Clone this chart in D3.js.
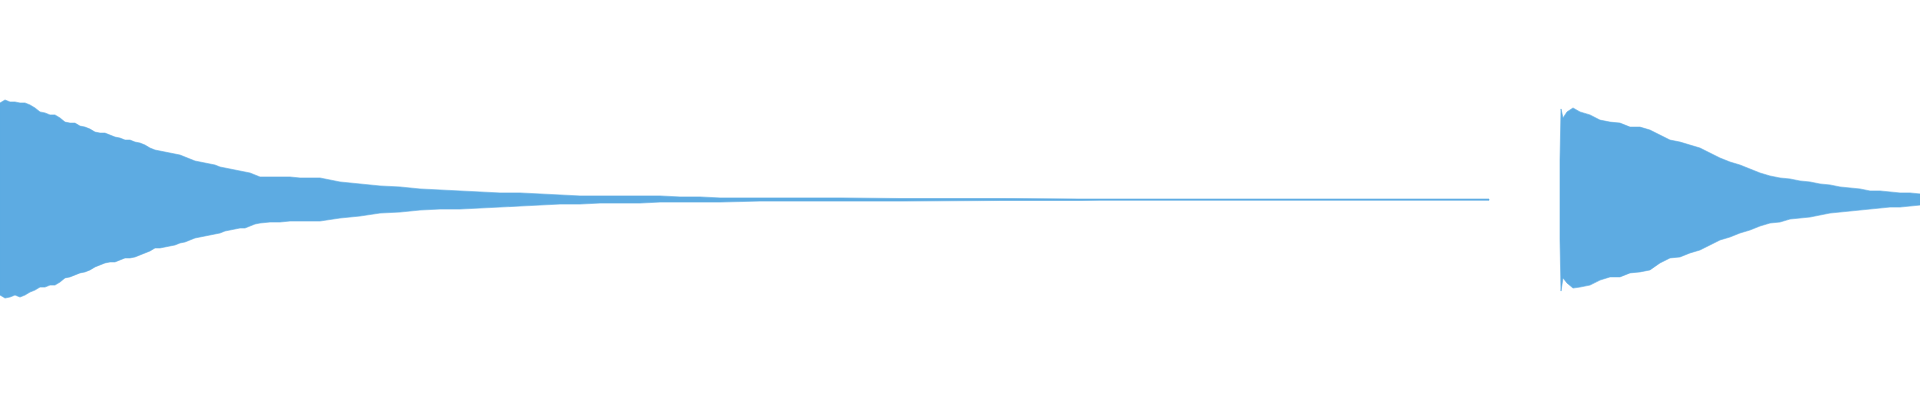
<!DOCTYPE html>
<html>
<head>
<meta charset="utf-8">
<script src="https://cdn.jsdelivr.net/npm/d3@7"></script>
<style>
  html, body { margin: 0; padding: 0; background: #ffffff; }
  svg { display: block; }
</style>
</head>
<body>
<div id="chart"></div>
<script>
// Time (ms) of each envelope sample, and peak max / min amplitudes (-1..1)
const clip1Time = [0,25,50,75,100,125,150,175,200,225,250,275,300,325,350,375,400,425,450,475,500,525,550,575,600,625,650,675,700,725,750,775,800,825,850,875,900,925,950,975,1000,1025,1050,1075,1100,1125,1150,1175,1200,1225,1250,1275,1300,1350,1400,1450,1500,1600,1700,1800,1900,2000,2100,2200,2300,2400,2500,2600,2700,2800,2900,3000,3100,3200,3300,3400,3500,3600,3800,4000,4200,4500,5000,5400,5500,6000,6500,7445];
const clip1Max = [0.484,0.499,0.489,0.489,0.484,0.484,0.474,0.459,0.439,0.434,0.424,0.424,0.409,0.388,0.383,0.383,0.368,0.363,0.353,0.338,0.333,0.333,0.323,0.313,0.308,0.298,0.298,0.288,0.283,0.273,0.258,0.248,0.243,0.238,0.233,0.228,0.223,0.213,0.203,0.193,0.188,0.183,0.178,0.173,0.163,0.158,0.153,0.148,0.143,0.138,0.133,0.123,0.113,0.113,0.113,0.113,0.108,0.108,0.088,0.078,0.068,0.063,0.053,0.048,0.043,0.038,0.033,0.033,0.028,0.023,0.018,0.018,0.018,0.018,0.018,0.013,0.013,0.008,0.008,0.008,0.008,0.005,0.005,0.0025,0.0025,0.0025,0.0025,0.0025];
const clip1Min = [-0.479,-0.494,-0.489,-0.479,-0.489,-0.479,-0.464,-0.454,-0.439,-0.439,-0.429,-0.429,-0.414,-0.393,-0.388,-0.378,-0.368,-0.363,-0.353,-0.338,-0.328,-0.318,-0.313,-0.313,-0.303,-0.293,-0.293,-0.288,-0.278,-0.268,-0.258,-0.243,-0.243,-0.238,-0.233,-0.228,-0.218,-0.213,-0.203,-0.193,-0.188,-0.183,-0.178,-0.173,-0.168,-0.158,-0.153,-0.148,-0.143,-0.143,-0.133,-0.123,-0.118,-0.113,-0.113,-0.108,-0.108,-0.108,-0.093,-0.083,-0.068,-0.063,-0.053,-0.048,-0.048,-0.043,-0.038,-0.033,-0.028,-0.023,-0.023,-0.018,-0.018,-0.018,-0.013,-0.013,-0.013,-0.013,-0.008,-0.008,-0.008,-0.008,-0.005,-0.005,-0.004,-0.004,-0.004,-0.004];

const clip2Time = [7800,7805,7815,7835,7865,7900,7950,8000,8050,8100,8150,8200,8250,8300,8350,8400,8450,8500,8550,8600,8650,8700,8750,8800,8850,8900,8950,9000,9050,9100,9150,9200,9250,9300,9350,9400,9450,9500,9550,9600];
const clip2Max = [0.198,0.454,0.409,0.439,0.459,0.439,0.424,0.398,0.388,0.383,0.363,0.363,0.348,0.323,0.298,0.288,0.273,0.258,0.233,0.208,0.188,0.173,0.153,0.133,0.118,0.108,0.103,0.093,0.088,0.078,0.073,0.063,0.058,0.053,0.043,0.043,0.038,0.033,0.033,0.028];
const clip2Min = [-0.203,-0.459,-0.393,-0.419,-0.444,-0.439,-0.429,-0.404,-0.388,-0.388,-0.368,-0.363,-0.353,-0.318,-0.293,-0.288,-0.268,-0.253,-0.228,-0.203,-0.188,-0.168,-0.153,-0.133,-0.118,-0.113,-0.098,-0.093,-0.088,-0.078,-0.068,-0.063,-0.058,-0.053,-0.048,-0.043,-0.038,-0.038,-0.033,-0.028];

const durationMs = 9600;
const waveColor = "#5dabe2";

const W = 1920, H = 400;
const svg = d3.select("#chart").append("svg").attr("width", W).attr("height", H);

const x = d3.scaleLinear().domain([0, durationMs]).range([0, W]);
const y = d3.scaleLinear().domain([-1, 1]).range([399, 0]);

function build(times, maxs, mins) {
  return times.map((t, i) => ({ t, hi: maxs[i], lo: mins[i] }));
}

const clips = [
  build(clip1Time, clip1Max, clip1Min),
  build(clip2Time, clip2Max, clip2Min)
];

const area = d3.area()
  .x(d => x(d.t))
  .y0(d => y(d.lo))
  .y1(d => y(d.hi))
  .curve(d3.curveLinear);

svg.selectAll("path.wave")
  .data(clips)
  .join("path")
  .attr("class", "wave")
  .attr("d", area)
  .attr("fill", waveColor)
  .attr("stroke", waveColor)
  .attr("stroke-width", 0.6);
</script>
</body>
</html>
